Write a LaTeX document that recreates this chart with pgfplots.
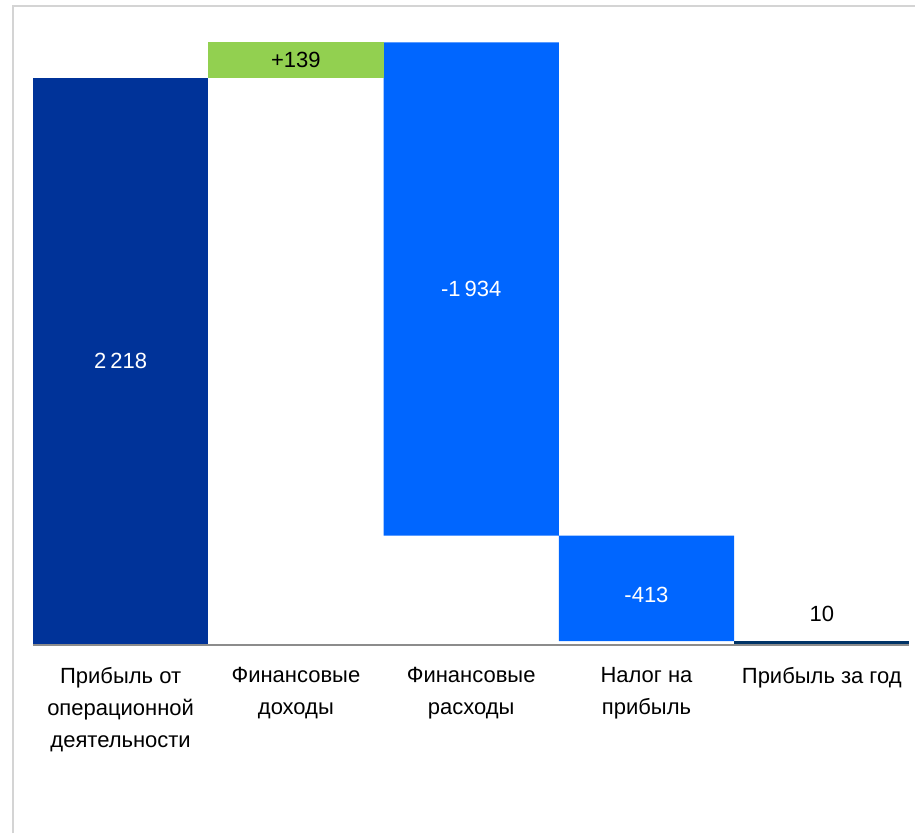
\documentclass[border=0pt]{standalone}
\usepackage{fontspec}
\setmainfont{Liberation Sans}
\usepackage{pgfplots}
\pgfplotsset{compat=1.18}
\definecolor{opblue}{HTML}{003399}
\definecolor{incgreen}{HTML}{92D050}
\definecolor{expblue}{HTML}{0066FF}
\definecolor{netnavy}{HTML}{003366}
\definecolor{framegray}{HTML}{D4D4D4}
\definecolor{basegray}{HTML}{8C8C8C}

\begin{document}
\fontsize{11}{16}\selectfont
\begin{tikzpicture}
% page = 916x834 px at 0.5pt per px
\path (0,0) rectangle (458pt,417pt);
\draw[framegray, line width=0.6pt] (6.5pt,0) -- (6.5pt,414pt) -- (458pt,414pt);
\begin{axis}[
    at={(16.5pt,95pt)}, anchor=south west,
    scale only axis,
    width=438.5pt, height=319pt,
    xmin=-0.5, xmax=4.5,
    ymin=0, ymax=2500,
    axis lines=none,
    ybar stacked,
    bar width=1,
    xtick=\empty,
    ytick=\empty,
    clip=false,
]
    % invisible base of each step
    \addplot[draw=none, fill=none] coordinates {(0,0) (1,2218) (2,423) (3,10) (4,0)};
    \addplot[draw=none, fill=opblue] coordinates {(0,2218) (1,0) (2,0) (3,0) (4,0)};
    \addplot[draw=none, fill=incgreen] coordinates {(0,0) (1,139) (2,0) (3,0) (4,0)};
    \addplot[draw=none, fill=expblue] coordinates {(0,0) (1,0) (2,1934) (3,413) (4,0)};
    \addplot[draw=none, fill=netnavy] coordinates {(0,0) (1,0) (2,0) (3,0) (4,10)};

    \coordinate (bl) at (axis cs:-0.5,0);
    \coordinate (br) at (axis cs:4.5,0);
    \coordinate (v0) at (axis cs:0,1109);
    \coordinate (v1) at (axis cs:1,2287);
    \coordinate (v2) at (axis cs:2,1390);
    \coordinate (v3) at (axis cs:3,190);
    \coordinate (v4) at (axis cs:4,115);

    \node[align=center, anchor=north] at (axis cs:0,0) [yshift=-8pt] {Прибыль от\\операционной\\деятельности};
    \node[align=center, anchor=north] at (axis cs:1,0) [yshift=-8pt] {Финансовые\\доходы};
    \node[align=center, anchor=north] at (axis cs:2,0) [yshift=-8pt] {Финансовые\\расходы};
    \node[align=center, anchor=north] at (axis cs:3,0) [yshift=-8pt] {Налог на\\прибыль};
    \node[align=center, anchor=north] at (axis cs:4,0) [yshift=-8pt] {Прибыль за год};
\end{axis}
% drawn after the axis so they sit on top of the bars
\draw[basegray, line width=1.3pt] ([yshift=-0.65pt]bl) -- ([yshift=-0.65pt]br);
\node[white] at (v0) {2\hspace{2pt}218};
\node[black] at (v1) {+139};
\node[white] at (v2) {-1\hspace{2pt}934};
\node[white] at (v3) {-413};
\node[black] at (v4) {10};
\end{tikzpicture}
\end{document}
